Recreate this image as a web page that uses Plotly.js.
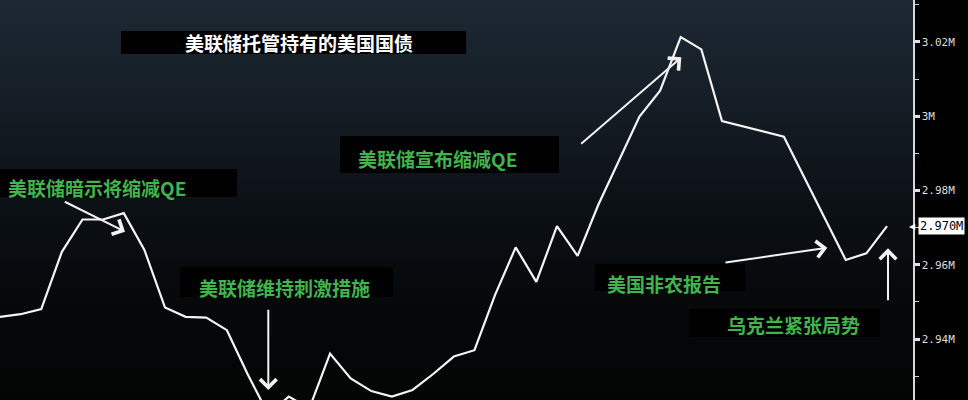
<!DOCTYPE html>
<html>
<head>
<meta charset="utf-8">
<script src="https://cdn.plot.ly/plotly-3.0.1.min.js"></script>
<style>
  html, body { margin: 0; padding: 0; background: #000; width: 968px; height: 400px; overflow: hidden; }
  #bg { position: absolute; left: 0; top: 0; width: 913px; height: 400px;
        background: linear-gradient(to bottom, #1d2833 0%, #151e26 25%, #0c1116 50%, #06080a 75%, #030404 100%); }
  #chart { position: absolute; left: 0; top: 0; width: 968px; height: 400px; }
</style>
</head>
<body>
<div id="bg"></div>
<div id="chart"></div>
<script>
// Weekly index (position along the time axis) of each plotted week
const weekIdx = [0,1,2,3,4,5,6,7,8,9,10,11,12,13,14,15,16,17,18,19,20,21,22,23,24,25,26,27,28,29,31,32,33,34,35,38,41,42,43];
// Treasuries held in custody by the Fed, in millions (M)
const holdings = [2.9460,2.9467,2.9481,2.9635,2.9722,2.9722,2.9739,2.9640,2.9485,2.9460,2.9458,2.9424,2.9306,2.9198,2.9245,2.9214,2.9361,2.9294,2.9260,2.9245,2.9263,2.9306,2.9353,2.9370,2.9519,2.9647,2.9554,2.9704,2.9624,2.9761,2.9999,3.0069,3.0213,3.0180,2.9987,2.9945,2.9613,2.9631,2.9704];
// Axis ticks
const tickVals = [2.94, 2.96, 2.98, 3.00, 3.02];
const tickText = ['2.94M', '2.96M', '2.98M', '3M', '3.02M'];
const minorVals = [2.93, 2.95, 2.97, 2.99, 3.01, 3.03];
// Texts
const titleText = '美联储托管持有的美国国债';
const eventLabels = ['美联储暗示将缩减QE', '美联储宣布缩减QE', '美联储维持刺激措施', '美国非农报告', '乌克兰紧张局势'];

const W = 913, H = 400;
const px = x => x / W;
const py = y => 1 - y / H;

const green = '#3fb54c';
const cjk = '"Noto Sans CJK SC", "Noto Sans", sans-serif';

// boxes: [x0, y0, x1, y1, textStartX, textCenterY]
const boxes = [
  [0, 169, 237, 197, 6, 187],
  [340, 136, 559, 173, 356, 158],
  [180, 267, 393, 297, 197, 287],
  [595, 264, 745, 291, 605, 283],
  [689, 309, 880, 337, 725, 324]
];
const titleBox = [121, 31, 466, 54, 183, 42.5];

const shapes = [titleBox].concat(boxes).map(b => ({
  type: 'rect', xref: 'paper', yref: 'paper', layer: 'below',
  x0: px(b[0]), x1: px(b[2]), y0: py(b[3]), y1: py(b[1]),
  fillcolor: '#000', line: {width: 0}
}));

const annotations = [];
annotations.push({
  xref: 'paper', yref: 'paper', x: px(titleBox[4]), y: py(titleBox[5]),
  xanchor: 'left', yanchor: 'middle', showarrow: false, text: titleText,
  font: {family: cjk, size: 19, color: '#ffffff', weight: 'bold'}
});
boxes.forEach((b, i) => annotations.push({
  xref: 'paper', yref: 'paper', x: px(b[4]), y: py(b[5]),
  xanchor: 'left', yanchor: 'middle', showarrow: false, text: eventLabels[i],
  font: {family: cjk, size: 19, color: green, weight: 'bold'}
}));

// arrows: [headX, headY, tailX, tailY]
const arrows = [
  [125, 231.7, 63.3, 201],
  [268.3, 390, 268.3, 308.3],
  [681.3, 57.3, 579.7, 145],
  [827.3, 247.7, 724, 262.7],
  [888, 248.3, 888, 301.7]
];
arrows.forEach(a => annotations.push({
  xref: 'paper', yref: 'paper', x: px(a[0]), y: py(a[1]),
  ax: a[2] - a[0], ay: a[3] - a[1], axref: 'pixel', ayref: 'pixel',
  text: '', showarrow: true, arrowhead: 4, arrowsize: 1.6, arrowwidth: 2,
  arrowcolor: '#f2f2f2', standoff: 0
}));

// current value label
const last = holdings[holdings.length - 1];
annotations.push({
  xref: 'paper', yref: 'y', x: 1, y: last, xanchor: 'left', yanchor: 'middle',
  xshift: 5, showarrow: false, text: last.toFixed(3) + 'M',
  bgcolor: '#ffffff', borderpad: 1,
  font: {family: '"DejaVu Sans Mono", monospace', size: 12, color: '#000'}
});
annotations.push({
  xref: 'paper', yref: 'y', x: 1, y: last, xanchor: 'right', yanchor: 'middle',
  xshift: 5, showarrow: false, text: '◀',
  font: {family: '"DejaVu Sans", sans-serif', size: 8, color: '#ffffff'}
});

const trace = {
  x: weekIdx, y: holdings, type: 'scatter', mode: 'lines',
  line: {color: '#f4f4f4', width: 2.2}, hoverinfo: 'skip'
};

const layout = {
  width: 968, height: 400,
  margin: {l: 0, r: 55, t: 0, b: 0, pad: 0},
  paper_bgcolor: 'rgba(0,0,0,0)', plot_bgcolor: 'rgba(0,0,0,0)',
  showlegend: false,
  xaxis: {visible: false, range: [0, 44.26], fixedrange: true},
  yaxis: {
    side: 'right', range: [2.9236, 3.0313], fixedrange: true,
    showgrid: false, zeroline: false,
    showline: true, linecolor: '#d8d8d8', linewidth: 1.5,
    tickmode: 'array', tickvals: tickVals, ticktext: tickText,
    ticks: 'outside', ticklen: 5, tickwidth: 3, tickcolor: '#e0e0e0',
    minor: {tickmode: 'array', tickvals: minorVals, ticks: 'outside', ticklen: 4, tickwidth: 1, tickcolor: '#d0d0d0'},
    tickfont: {family: '"DejaVu Sans Mono", monospace', size: 11, color: '#dcdcdc'}
  },
  shapes: shapes,
  annotations: annotations
};

Plotly.newPlot('chart', [trace], layout, {displayModeBar: false, staticPlot: true});
</script>
</body>
</html>
